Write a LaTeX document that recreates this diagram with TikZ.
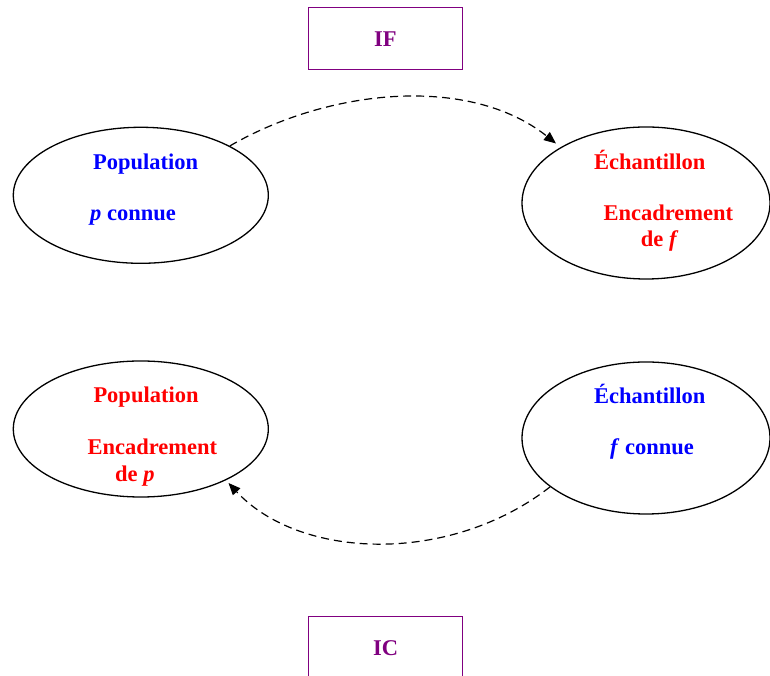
\documentclass[tikz,border=0pt]{standalone}
\usepackage{fontspec}
\setmainfont{Liberation Serif}
\usetikzlibrary{shapes.geometric,arrows.meta}
\definecolor{cblue}{RGB}{0,0,255}
\definecolor{cred}{RGB}{255,0,0}
\definecolor{cpurple}{RGB}{128,0,128}
\begin{document}
\begin{tikzpicture}[x=1pt,y=1pt,
  ell/.style={draw=black, line width=1.3pt, ellipse, inner sep=0pt},
  lbl/.style={anchor=base west, inner sep=0pt, font=\fontsize{22.5}{26}\selectfont\bfseries},
  boxstyle/.style={draw=cpurple, line width=1pt, minimum width=154pt, text=cpurple,
     font=\fontsize{22.5}{26}\selectfont\bfseries},
  conn/.style={draw=black, line width=1.2pt, dash pattern=on 8pt off 5pt,
     -{Triangle[length=12pt,width=10pt]}}]
\clip (0,0) rectangle (770,676);
\fill[white] (0,0) rectangle (770,676);
% boxes
\node[boxstyle, minimum height=62pt] (IF) at (385,637) {};
\node[cpurple, lbl] (IFt) at (374,629.3) {IF};
\node[boxstyle, minimum height=118pt] (IC) at (385,0) {};
\node[cpurple, lbl] (ICt) at (373,20) {IC};
% ellipses
\node[ell, minimum width=255pt, minimum height=136pt] (tl) at (140.8,480.7) {};
\node[ell, minimum width=248pt, minimum height=152pt] (tr) at (646,473) {};
\node[ell, minimum width=255pt, minimum height=136pt] (bl) at (140.8,247) {};
\node[ell, minimum width=248pt, minimum height=152pt] (br) at (646,238) {};
% texts
\node[lbl, text=cblue] (tl1) at (93,506) {Population};
\node[lbl, text=cblue] (tl2) at (90,455) {\textit{p} connue};
\node[lbl, text=cred] (tr1) at (594,506) {Échantillon};
\node[lbl, text=cred] (tr2) at (603.3,455.3) {Encadrement};
\node[lbl, text=cred] (tr3) at (640.7,429.3) {de \textit{f}};
\node[lbl, text=cred] (bl1) at (93.3,273.3) {Population};
\node[lbl, text=cred] (bl2) at (87.3,221) {Encadrement};
\node[lbl, text=cred] (bl3) at (115,194.3) {de \textit{p}};
\node[lbl, text=cblue] (br1) at (594,272.7) {Échantillon};
\node[lbl, text=cblue] (br2) at (610,221.7) {\textit{f} connue};
% connector tips
\coordinate (ifend) at (556,532.5);
\coordinate (icend) at (228.5,193);
% connectors
\draw[conn] (tl.29) .. controls (330,588) and (470,601) .. (ifend);
\draw[conn] (br.207.5) .. controls (450,111) and (300,116) .. (icend);
\end{tikzpicture}
\end{document}
